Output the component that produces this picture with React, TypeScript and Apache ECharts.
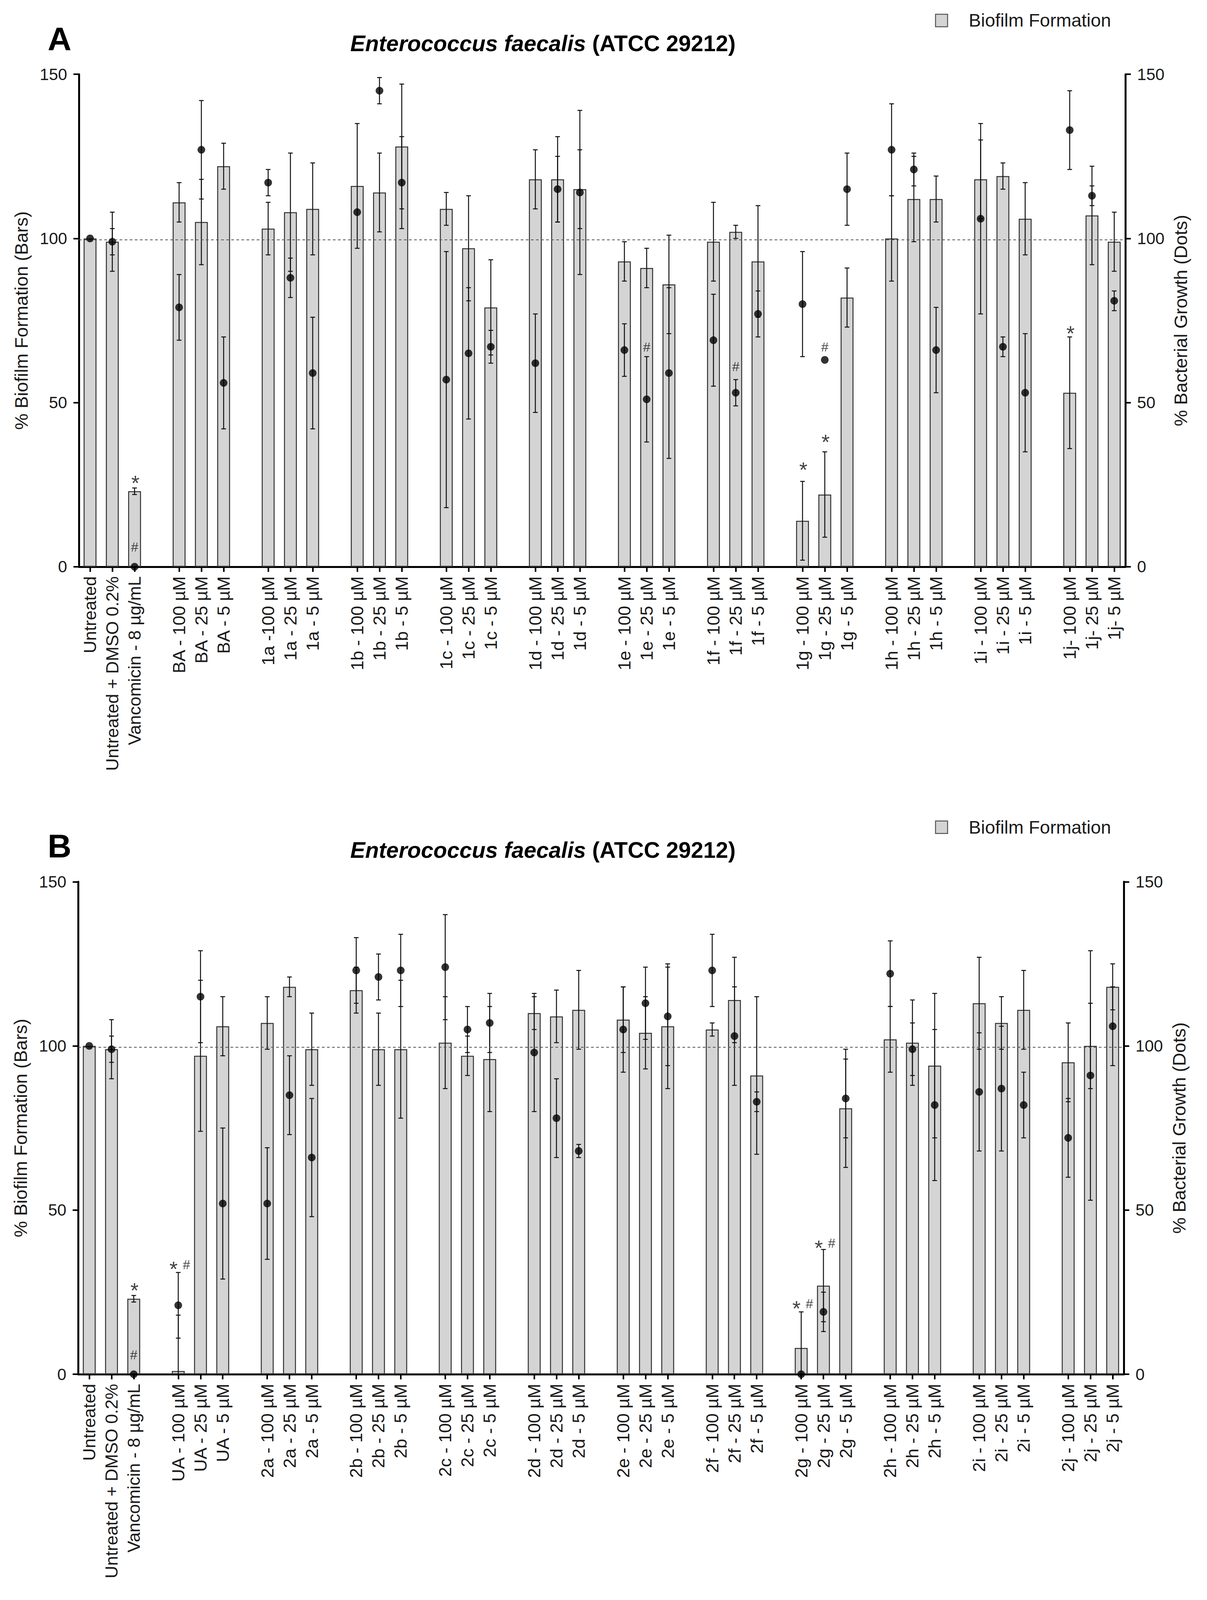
import React, { useEffect, useRef } from 'react';
import * as echarts from 'echarts';

const FONT = 'Liberation Sans, Arial, Helvetica, sans-serif';

// ---------- Panel A ----------
const labelsA = [
  'Untreated', 'Untreated + DMSO 0.2%', 'Vancomicin - 8 µg/mL',
  'BA - 100 µM', 'BA - 25 µM', 'BA - 5 µM',
  '1a -100 µM', '1a - 25 µM', '1a - 5 µM',
  '1b - 100 µM', '1b - 25 µM', '1b - 5 µM',
  '1c - 100 µM', '1c - 25 µM', '1c - 5 µM',
  '1d - 100 µM', '1d - 25 µM', '1d - 5 µM',
  '1e - 100 µM', '1e - 25 µM', '1e - 5 µM',
  '1f - 100 µM', '1f - 25 µM', '1f - 5 µM',
  '1g - 100 µM', '1g - 25 µM', '1g - 5 µM',
  '1h - 100 µM', '1h - 25 µM', '1h - 5 µM',
  '1i - 100 µM', '1i - 25 µM', '1i - 5 µM',
  '1j- 100 µM', '1j- 25 µM', '1j- 5 µM',
];
const biofilmA = [100, 99, 23, 111, 105, 122, 103, 108, 109, 116, 114, 128, 109, 97, 79, 118, 118, 115, 93, 91, 86, 99, 102, 93, 14, 22, 82, 100, 112, 112, 118, 119, 106, 53, 107, 99];
const biofilmSdA = [null, 9, 1, 6, 13, 7, 8, 18, 14, 19, 12, 19, 5, 16, 14.5, 9, 13, 12, 6, 6, 15, 12, 2, 17, 12, 13, 9, 13, 13, 7, 12, 4, 11, 17, 15, 9];
const growthA = [100, 99, 0, 79, 127, 56, 117, 88, 59, 108, 145, 117, 57, 65, 67, 62, 115, 114, 66, 51, 59, 69, 53, 77, 80, 63, 115, 127, 121, 66, 106, 67, 53, 133, 113, 81];
const growthSdA = [null, 4, null, 10, 15, 14, 4, 6, 17, null, 4, 14, 39, 20, 5, 15, 10, 25, 8, 13, 26, 14, 4, 7, 16, null, 11, 14, 5, 13, 29, 3, 18, 12, 3, 3];
// [bar index, y value of glyph centre, symbol]
const marksA: [number, number, string][] = [
  [2, 27, '*'], [2, 6, '#'], [19, 67, '#'], [22, 61, '#'],
  [24, 31, '*'], [25, 67, '#'], [25, 39.5, '*'], [33, 72.5, '*'],
];

// ---------- Panel B ----------
const labelsB = [
  'Untreated', 'Untreated + DMSO 0.2%', 'Vancomicin - 8 µg/mL',
  'UA - 100 µM', 'UA - 25 µM', 'UA - 5 µM',
  '2a - 100 µM', '2a - 25 µM', '2a - 5 µM',
  '2b - 100 µM', '2b - 25 µM', '2b - 5 µM',
  '2c - 100 µM', '2c - 25 µM', '2c - 5 µM',
  '2d - 100 µM', '2d - 25 µM', '2d - 5 µM',
  '2e - 100 µM', '2e - 25 µM', '2e - 5 µM',
  '2f - 100 µM', '2f - 25 µM', '2f - 5 µM',
  '2g - 100 µM', '2g - 25 µM', '2g - 5 µM',
  '2h - 100 µM', '2h - 25 µM', '2h - 5 µM',
  '2i - 100 µM', '2i - 25 µM', '2i - 5 µM',
  '2j - 100 µM', '2j - 25 µM', '2j - 5 µM',
];
const biofilmB = [100, 99, 23, 1, 97, 106, 107, 118, 99, 117, 99, 99, 101, 97, 96, 110, 109, 111, 108, 104, 106, 105, 114, 91, 8, 27, 81, 102, 101, 94, 113, 107, 111, 95, 100, 118];
const biofilmSdB = [null, 9, 1, 17, 23, 9, 8, 3, 11, 7, 11, 21, 14, 6, 16, 5, 8, 12, 10, 11, 19, 2, 13, 24, 11, 11, 18, 10, 13, 22, 14, 8, 12, 12, 13, 7];
const growthB = [100, 99, 0, 21, 115, 52, 52, 85, 66, 123, 121, 123, 124, 105, 107, 98, 78, 68, 105, 113, 109, 123, 103, 83, 0, 19, 84, 122, 99, 82, 86, 87, 82, 72, 91, 106];
const growthSdB = [null, 4, null, 10, 14, 23, 17, 12, 18, 10, 7, 11, 16, 7, 9, 18, 12, 2, 13, 11, 15, 11, 15, 3, null, 6, 12, 10, 8, 23, 18, 19, 10, 12, 38, 12];
const marksB: [number, number, string][] = [
  [2, 27, '*'], [2, 6, '#'], [3, 33.5, '*#'], [24, 21.5, '*#'], [25, 40, '*#'],
];

const yMin = 0;
const yMax = 150;
const yInterval = 50;
const refLine = 99.6;
const titleMain = 'Enterococcus faecalis';
const titleStrain = '(ATCC 29212)';
const leftName = '% Biofilm Formation (Bars)';
const rightName = '% Bacterial Growth (Dots)';
const legendName = 'Biofilm Formation';

const NSLOTS = 47;
const slotOf = (i: number) => (i < 3 ? i : 4 + Math.floor((i - 3) / 3) * 4 + ((i - 3) % 3));

const TEXT = '#1a1a1a';
const BASE_W = 3090;
const BASE_H = 4373;

function buildOption(W: number, H: number) {
  const sx = W / BASE_W;
  const sy = H / BASE_H;
  const fs = Math.min(sx, sy);
  const X = (v: number) => v * sx;
  const Y = (v: number) => v * sy;
  const F = (v: number) => v * fs;

  const errRender = (params: any, api: any) => {
    const x = api.value(0);
    const lo = api.value(1);
    const hi = api.value(2);
    const top = api.coord([x, hi]);
    const bot = api.coord([x, lo]);
    const hw = X(6);
    const style = { stroke: '#111', lineWidth: 2.5 };
    return {
      type: 'group',
      children: [
        { type: 'line', shape: { x1: top[0], y1: top[1], x2: bot[0], y2: bot[1] }, style },
        { type: 'line', shape: { x1: top[0] - hw, y1: top[1], x2: top[0] + hw, y2: top[1] }, style },
        { type: 'line', shape: { x1: bot[0] - hw, y1: bot[1], x2: bot[0] + hw, y2: bot[1] }, style },
      ],
    };
  };

  const panelSeries = (p: number, bio: number[], bioSd: (number | null)[], gro: number[], groSd: (number | null)[], marks: [number, number, string][]) => {
    const barData: any[] = new Array(NSLOTS).fill('-');
    bio.forEach((v, i) => { barData[slotOf(i)] = v; });
    const barErr: number[][] = [];
    bioSd.forEach((sd, i) => { if (sd != null) barErr.push([slotOf(i), bio[i] - sd, bio[i] + sd]); });
    const dotData = gro.map((v, i) => [slotOf(i), v]);
    const dotErr: number[][] = [];
    groSd.forEach((sd, i) => { if (sd != null) dotErr.push([slotOf(i), gro[i] - sd, gro[i] + sd]); });
    const markData: any[] = [];
    marks.forEach(([i, y, t]) => {
      const s = slotOf(i);
      if (t === '*#') {
        markData.push({ value: [s, y], label: { formatter: '*', fontSize: F(58), offset: [X(-12), F(13)] } });
        markData.push({ value: [s, y], label: { formatter: '#', fontSize: F(36), offset: [X(21), 0] } });
      } else if (t === '*') {
        markData.push({ value: [s, y], label: { formatter: '*', fontSize: F(58), offset: [X(2), F(13)] } });
      } else {
        markData.push({ value: [s, y], label: { formatter: '#', fontSize: F(36), offset: [0, 0] } });
      }
    });
    return [
      {
        type: 'bar', name: legendName, xAxisIndex: p, yAxisIndex: 2 * p, barWidth: X(33), data: barData, z: 2,
        itemStyle: { color: '#d4d4d4', borderColor: '#333', borderWidth: 2.5 },
        markLine: {
          silent: true, symbol: ['none', 'none'], label: { show: false },
          lineStyle: { type: [7, 6], color: '#555', width: 2 },
          data: [{ yAxis: refLine }],
        },
      },
      {
        type: 'custom', xAxisIndex: p, yAxisIndex: 2 * p, renderItem: errRender, data: barErr,
        encode: { x: 0, y: [1, 2] }, clip: true, z: 3,
      },
      {
        type: 'custom', xAxisIndex: p, yAxisIndex: 2 * p + 1, renderItem: errRender, data: dotErr,
        encode: { x: 0, y: [1, 2] }, clip: true, z: 4,
      },
      {
        type: 'scatter', xAxisIndex: p, yAxisIndex: 2 * p + 1, data: dotData, symbol: 'circle', symbolSize: F(21),
        itemStyle: { color: '#000' }, z: 5, clip: false,
      },
      {
        type: 'scatter', xAxisIndex: p, yAxisIndex: 2 * p, data: markData, symbolSize: 0, z: 6, clip: false,
        label: { show: true, position: 'inside', color: '#111', fontFamily: FONT },
      },
    ];
  };

  const xAxisFor = (p: number, labels: string[]) => {
    const cats: string[] = new Array(NSLOTS).fill('');
    labels.forEach((l, i) => { cats[slotOf(i)] = l; });
    return {
      type: 'category', gridIndex: p, data: cats, boundaryGap: true,
      axisLine: { show: true, lineStyle: { color: '#000', width: 5 } },
      axisTick: {
        show: true, alignWithLabel: true, length: Y(14), lineStyle: { color: '#000', width: 4 },
        interval: (idx: number, val: string) => val !== '',
      },
      axisLabel: { interval: 0, rotate: 90, fontSize: F(48), color: TEXT, fontFamily: FONT, margin: Y(26) },
      splitLine: { show: false },
    };
  };

  const yAxisFor = (p: number, side: 'left' | 'right') => ({
    type: 'value', gridIndex: p, position: side, min: yMin, max: yMax, interval: yInterval,
    name: side === 'left' ? leftName : rightName, nameLocation: 'middle', nameGap: X(side === 'left' ? 124 : 118),
    nameTextStyle: { fontSize: F(50), color: TEXT, fontFamily: FONT },
    axisLine: { show: true, lineStyle: { color: '#000', width: 5 } },
    axisTick: { show: true, length: X(14), lineStyle: { color: '#000', width: 4 } },
    axisLabel: { fontSize: F(45), color: TEXT, fontFamily: FONT, margin: X(30) },
    splitLine: { show: false },
  });

  const panelGraphics = (top: number, letter: string) => [
    {
      type: 'text', x: X(122), y: Y(top + 107),
      style: { text: letter, fontSize: F(90), fontWeight: 'bold', fontFamily: FONT, fill: '#000', align: 'left', verticalAlign: 'middle' },
    },
    {
      type: 'text', x: X(1390), y: Y(top + 118),
      style: {
        text: `{i|${titleMain}} ${titleStrain}`, fontSize: F(61), fontWeight: 'bold', fontFamily: FONT, fill: '#000',
        align: 'center', verticalAlign: 'middle',
        rich: { i: { fontSize: F(61), fontWeight: 'bold', fontStyle: 'italic', fontFamily: FONT, fill: '#000' } },
      },
    },
    {
      type: 'rect', x: X(2395), y: Y(top + 39), shape: { width: F(33), height: F(34) },
      style: { fill: '#d4d4d4', stroke: '#555', lineWidth: 2.5 },
    },
    {
      type: 'text', x: X(2480), y: Y(top + 56),
      style: { text: legendName, fontSize: F(50), fontFamily: FONT, fill: TEXT, align: 'left', verticalAlign: 'middle' },
    },
  ];

  return {
    animation: false,
    backgroundColor: '#fff',
    textStyle: { fontFamily: FONT },
    grid: [
      { left: X(202), top: Y(203), width: X(2679), height: Y(1346), outerBoundsMode: 'none', containLabel: false },
      { left: X(200), top: Y(2410), width: X(2677), height: Y(1346), outerBoundsMode: 'none', containLabel: false },
    ],
    xAxis: [xAxisFor(0, labelsA), xAxisFor(1, labelsB)],
    yAxis: [yAxisFor(0, 'left'), yAxisFor(0, 'right'), yAxisFor(1, 'left'), yAxisFor(1, 'right')],
    series: [
      ...panelSeries(0, biofilmA, biofilmSdA, growthA, growthSdA, marksA),
      ...panelSeries(1, biofilmB, biofilmSdB, growthB, growthSdB, marksB),
    ],
    graphic: [...panelGraphics(0, 'A'), ...panelGraphics(2205, 'B')],
  };
}

export default function App() {
  const ref = useRef<HTMLDivElement>(null);
  const W = Math.min(BASE_W, (typeof window !== 'undefined' && window.innerWidth) || BASE_W);
  const H = Math.min(BASE_H, (typeof window !== 'undefined' && window.innerHeight) || BASE_H);
  useEffect(() => {
    if (!ref.current) return;
    const chart = echarts.init(ref.current, null, { renderer: 'svg' });
    chart.setOption(buildOption(W, H));
    return () => chart.dispose();
  }, [W, H]);
  return (
    <div
      ref={ref}
      style={{ position: 'absolute', left: 0, top: 0, width: W, height: H, background: '#fff' }}
    />
  );
}
